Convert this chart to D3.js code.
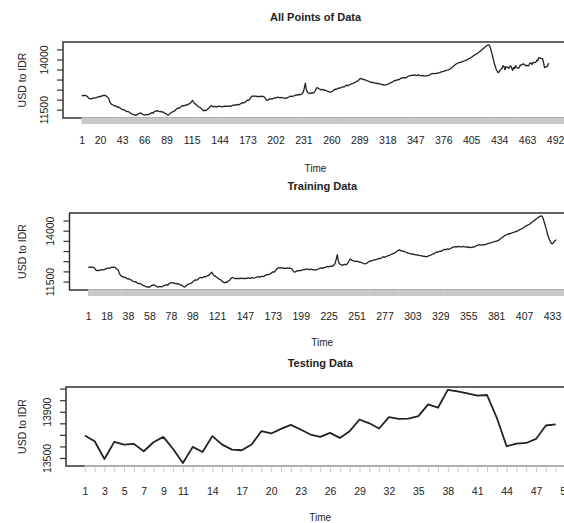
<!DOCTYPE html>
<html>
<head>
<meta charset="utf-8">
<script src="https://cdn.jsdelivr.net/npm/d3@7"></script>
<style>
  body { margin: 0; background: #fff; }
  svg { display: block; font-family: 'Liberation Sans', Arial, sans-serif; }
</style>
</head>
<body>
<svg id="chart" width="564" height="523"></svg>
<script>
// USD to IDR, daily. training = first 437 points, testing = last 49
var trainingValues = [
  12190, 12205, 12215, 12200, 12210, 12180, 12165, 12070, 12040, 12055,
  12035, 12060, 12080, 12070, 12090, 12085, 12120, 12140, 12155, 12165,
  12150, 12190, 12210, 12200, 12215, 12195, 12150, 12110, 12060, 11900,
  11820, 11760, 11745, 11720, 11690, 11700, 11650, 11620, 11640, 11600,
  11580, 11540, 11510, 11490, 11500, 11460, 11420, 11400, 11410, 11380,
  11350, 11310, 11290, 11270, 11250, 11230, 11240, 11225, 11260, 11300,
  11320, 11340, 11310, 11280, 11250, 11230, 11245, 11260, 11240, 11250,
  11280, 11310, 11330, 11350, 11320, 11380, 11420, 11440, 11430, 11450,
  11420, 11400, 11410, 11380, 11395, 11360, 11330, 11320, 11280, 11240,
  11230, 11280, 11330, 11360, 11390, 11400, 11420, 11470, 11520, 11560,
  11580, 11570, 11600, 11650, 11690, 11700, 11680, 11710, 11740, 11720,
  11760, 11780, 11800, 11840, 11900, 11960, 11880, 11800, 11780, 11740,
  11700, 11650, 11620, 11600, 11560, 11500, 11460, 11440, 11480, 11450,
  11500, 11540, 11580, 11650, 11700, 11690, 11660, 11640, 11660, 11650,
  11640, 11660, 11650, 11670, 11660, 11650, 11640, 11660, 11670, 11680,
  11670, 11660, 11680, 11690, 11670, 11680, 11700, 11720, 11730, 11740,
  11720, 11750, 11760, 11740, 11770, 11800, 11830, 11850, 11840, 11860,
  11900, 11940, 11980, 11960, 12000, 12080, 12140, 12180, 12170, 12160,
  12180, 12170, 12150, 12160, 12140, 12170, 12160, 12150, 12170, 12140,
  12100, 12030, 11960, 11980, 12010, 12040, 12030, 12050, 12040, 12060,
  12080, 12100, 12090, 12110, 12120, 12100, 12090, 12110, 12100, 12080,
  12070, 12080, 12060, 12090, 12110, 12130, 12160, 12170, 12150, 12180,
  12190, 12200, 12230, 12240, 12220, 12250, 12260, 12240, 12280, 12320,
  12400, 12600, 12820, 12500, 12380, 12340, 12320, 12300, 12330, 12350,
  12320, 12360, 12420, 12520, 12600, 12580, 12540, 12520, 12500, 12480,
  12510, 12490, 12460, 12470, 12440, 12420, 12400, 12380, 12370, 12390,
  12420, 12460, 12500, 12520, 12510, 12540, 12560, 12580, 12570, 12600,
  12620, 12640, 12630, 12660, 12700, 12720, 12690, 12720, 12740, 12760,
  12780, 12800, 12830, 12850, 12870, 12900, 12920, 12960, 13000, 13050,
  13060, 13020, 13000, 13010, 12980, 12960, 12940, 12920, 12900, 12880,
  12870, 12850, 12860, 12840, 12830, 12810, 12800, 12820, 12790, 12780,
  12770, 12760, 12740, 12750, 12730, 12720, 12740, 12760, 12780, 12800,
  12830, 12850, 12870, 12900, 12940, 12960, 12950, 12980, 13000, 12990,
  13030, 13060, 13080, 13070, 13090, 13100, 13080, 13110, 13140, 13170,
  13190, 13210, 13200, 13220, 13210, 13230, 13220, 13200, 13210, 13230,
  13220, 13200, 13190, 13210, 13180, 13190, 13170, 13180, 13200, 13190,
  13210, 13240, 13270, 13290, 13300, 13310, 13290, 13300, 13320, 13310,
  13330, 13340, 13360, 13380, 13390, 13400, 13420, 13440, 13450, 13470,
  13480, 13500, 13520, 13560, 13600, 13640, 13680, 13720, 13760, 13790,
  13810, 13840, 13860, 13850, 13880, 13900, 13920, 13930, 13950, 13970,
  13990, 14020, 14050, 14070, 14100, 14130, 14170, 14210, 14240, 14260,
  14290, 14320, 14360, 14400, 14440, 14480, 14520, 14560, 14600, 14640,
  14680, 14710, 14730, 14700, 14560, 14380, 14200, 14000, 13800, 13650,
  13500, 13420, 13350, 13380, 13470, 13520, 13560
];
var testingValues = [
  13694, 13645, 13491, 13639, 13616, 13622, 13558, 13636, 13683, 13578,
  13456, 13596, 13552, 13689, 13616, 13572, 13567, 13616, 13732, 13712,
  13752, 13787, 13746, 13703, 13683, 13717, 13674, 13732, 13833, 13800,
  13755, 13854, 13838, 13840, 13862, 13964, 13935, 14089, 14077, 14060,
  14040, 14045, 13848, 13601, 13625, 13630, 13665, 13781, 13790
];
var allValues = trainingValues.concat(testingValues);

// x labels R kept (the rest were dropped for overlap)
var allTickLabels = [1, 20, 43, 66, 89, 115, 144, 173, 202, 231, 260, 289, 318, 347, 376, 405, 434, 463, 492];
var trainTickLabels = [1, 18, 38, 58, 78, 98, 121, 147, 173, 199, 225, 251, 277, 303, 329, 355, 381, 407, 433];
var testTickLabels = [1, 3, 5, 7, 9, 11, 14, 17, 20, 23, 26, 29, 32, 35, 38, 41, 44, 47, 50];

var priceTicks = [11500, 12000, 12500, 13000, 13500, 14000, 14500];
var priceLabels = [11500, 14000];
var testPriceTicks = [13500, 13600, 13700, 13800, 13900, 14000, 14100];
var testPriceLabels = [13500, 13900];

var svg = d3.select('#chart');
var textColor = '#222';

var panels = [
  { title: 'All Points of Data', values: allValues, xLabels: allTickLabels,
    yTicks: priceTicks, yLabels: priceLabels,
    left: 63, right: 568, top: 42, bottom: 118, titleY: 17, labelY: 140, timeY: 168,
    lineWidth: 1.3, tickWidth: 1.6 },
  { title: 'Training Data', values: trainingValues, xLabels: trainTickLabels,
    yTicks: priceTicks, yLabels: priceLabels,
    left: 69.5, right: 575, top: 213, bottom: 290, titleY: 186, labelY: 316, timeY: 342,
    lineWidth: 1.3, tickWidth: 1.6 },
  { title: 'Testing Data', values: testingValues, xLabels: testTickLabels,
    yTicks: testPriceTicks, yLabels: testPriceLabels,
    left: 66, right: 574.5, top: 387, bottom: 466, titleY: 363, labelY: 491, timeY: 517,
    lineWidth: 1.8, tickWidth: 1 }
];

panels.forEach(function(p) {
  drawPanel(p);
});

function drawPanel(p) {
  var n = p.values.length;
  // R pads both axes by 4% of the range
  var xPad = 0.04 * (n - 1);
  var xScale = d3.scaleLinear().domain([1 - xPad, n + xPad]).range([p.left, p.right]);
  var lo = d3.min(p.values);
  var hi = d3.max(p.values);
  var yPad = 0.04 * (hi - lo);
  var yScale = d3.scaleLinear().domain([lo - yPad, hi + yPad]).range([p.bottom, p.top]);
  var midX = (p.left + p.right) / 2;
  var g = svg.append('g');

  g.append('text')
    .attr('x', midX)
    .attr('y', p.titleY)
    .attr('dy', '0.35em')
    .attr('text-anchor', 'middle')
    .attr('font-size', 11)
    .attr('font-weight', 'bold')
    .attr('fill', textColor)
    .text(p.title);

  g.append('rect')
    .attr('x', p.left)
    .attr('y', p.top)
    .attr('width', p.right - p.left)
    .attr('height', p.bottom - p.top)
    .attr('fill', 'none')
    .attr('stroke', '#333')
    .attr('stroke-width', 1.5);

  // one gray tick per observation, labels only where R had room
  var xTicks = d3.range(1, Math.floor(n + xPad) + 1);
  var xAxis = d3.axisBottom(xScale)
    .tickValues(xTicks)
    .tickSize(6)
    .tickSizeOuter(0)
    .tickFormat(function(d) {
      return p.xLabels.indexOf(d) >= 0 ? d : '';
    });
  var xAxisGroup = g.append('g')
    .attr('transform', 'translate(0,' + p.bottom + ')')
    .call(xAxis);
  xAxisGroup.select('.domain').remove();
  // dense ticks overlap into one flat gray band
  xAxisGroup.selectAll('line')
    .attr('stroke', '#c8c8c8')
    .attr('stroke-width', p.tickWidth);
  xAxisGroup.selectAll('text')
    .attr('y', p.labelY - p.bottom)
    .attr('dy', '0.35em')
    .attr('font-size', 10.5)
    .attr('font-family', null)
    .attr('fill', textColor);
  xAxisGroup.append('line')
    .attr('x1', xScale(xTicks[0]))
    .attr('x2', xScale(xTicks[xTicks.length - 1]))
    .attr('stroke', '#c8c8c8')
    .attr('stroke-width', 1.5);

  var yAxis = d3.axisLeft(yScale)
    .tickValues(p.yTicks)
    .tickSize(6)
    .tickSizeOuter(0)
    .tickFormat(function(d) {
      return p.yLabels.indexOf(d) >= 0 ? d : '';
    });
  var yAxisGroup = g.append('g')
    .attr('transform', 'translate(' + p.left + ',0)')
    .call(yAxis);
  yAxisGroup.select('.domain').remove();
  yAxisGroup.selectAll('line').attr('stroke', '#333').attr('stroke-width', 1.2);
  yAxisGroup.selectAll('text')
    .attr('transform', 'rotate(-90)')
    .attr('x', 0)
    .attr('y', -15.5)
    .attr('dy', 0)
    .attr('text-anchor', 'middle')
    .attr('font-size', 10.5)
    .attr('font-family', null)
    .attr('fill', textColor);

  var line = d3.line()
    .x(function(d, i) { return xScale(i + 1); })
    .y(function(d) { return yScale(d); });
  g.append('path')
    .datum(p.values)
    .attr('d', line)
    .attr('fill', 'none')
    .attr('stroke', '#222')
    .attr('stroke-width', p.lineWidth)
    .attr('stroke-linejoin', 'round');

  g.append('text')
    .attr('x', midX)
    .attr('y', p.timeY)
    .attr('dy', '0.35em')
    .attr('text-anchor', 'middle')
    .attr('font-size', 10)
    .attr('fill', textColor)
    .text('Time');

  g.append('text')
    .attr('transform', 'translate(' + 26 + ',' + ((p.top + p.bottom) / 2) + ') rotate(-90)')
    .attr('text-anchor', 'middle')
    .attr('font-size', 10.5)
    .attr('fill', textColor)
    .text('USD to IDR');
}
</script>
</body>
</html>
